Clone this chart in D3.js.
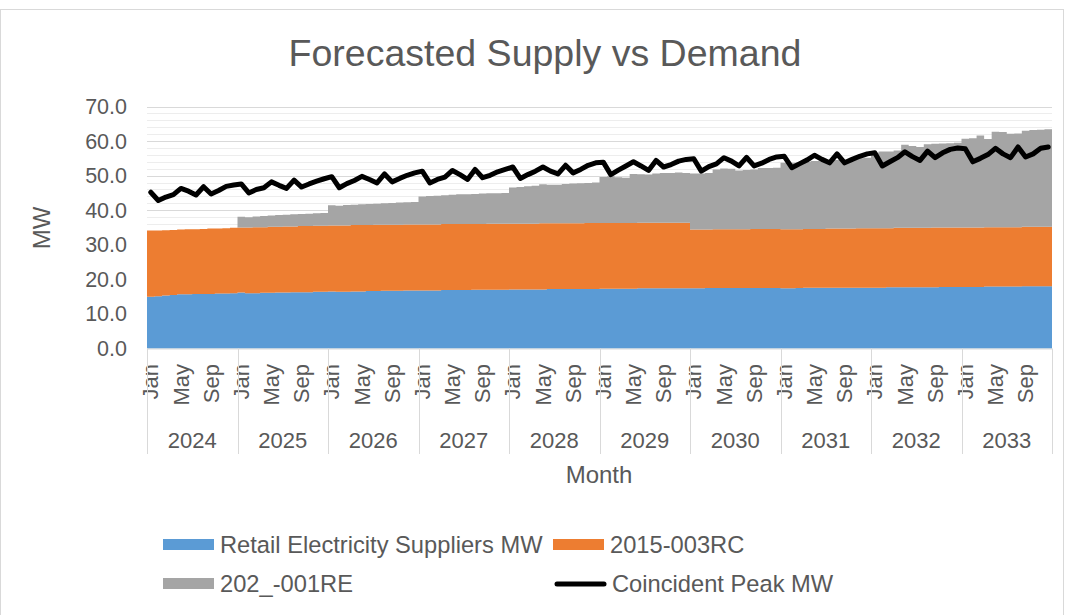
<!DOCTYPE html>
<html><head><meta charset="utf-8">
<script src="https://cdn.jsdelivr.net/npm/d3@7"></script>
<style>
html,body{margin:0;padding:0;background:#fff;}
svg text{font-family:"Liberation Sans",Arial,sans-serif;fill:#595959;}
</style></head>
<body>
<svg id="chart" width="1072" height="615"></svg>
<script>
// ---------- DATA ----------
const years = [2024,2025,2026,2027,2028,2029,2030,2031,2032,2033];
const monthNames = ["Jan","Feb","Mar","Apr","May","Jun","Jul","Aug","Sep","Oct","Nov","Dec"];
const monthTickLabels = ["Jan","May","Sep"];
const yTicks = [0,10,20,30,40,50,60,70];

const retailMW = [
15.0,15.1,15.3,15.5,15.7,15.7,15.8,15.8,15.8,15.9,15.9,16.0,
16.2,16.0,16.0,16.1,16.1,16.2,16.2,16.3,16.3,16.3,16.4,16.4,
16.5,16.4,16.4,16.5,16.5,16.6,16.6,16.7,16.7,16.7,16.8,16.8,
16.8,16.8,16.8,16.9,16.9,16.9,16.9,17.0,17.0,17.0,17.0,17.0,
17.1,17.1,17.1,17.1,17.1,17.2,17.2,17.2,17.2,17.2,17.2,17.2,
17.3,17.3,17.3,17.3,17.3,17.4,17.4,17.4,17.4,17.4,17.4,17.4,
17.4,17.4,17.5,17.5,17.5,17.5,17.5,17.5,17.5,17.5,17.5,17.5,
17.4,17.4,17.5,17.6,17.6,17.6,17.6,17.6,17.6,17.6,17.6,17.6,
17.6,17.6,17.7,17.7,17.7,17.7,17.7,17.7,17.7,17.8,17.8,17.8,
17.8,17.8,17.8,17.9,17.9,17.9,17.9,17.9,18.0,18.0,18.0,18.0];

const rc2015 = [
19.1,19.0,18.9,18.8,18.7,18.8,18.7,18.8,18.9,18.8,18.9,18.9,
18.8,19.0,19.1,19.0,19.1,19.0,19.1,19.0,19.1,19.1,19.1,19.1,
19.1,19.2,19.2,19.2,19.2,19.1,19.2,19.1,19.1,19.1,19.1,19.1,
19.1,19.1,19.1,19.1,19.1,19.1,19.1,19.0,19.0,19.1,19.1,19.1,
19.0,19.0,19.0,19.0,19.1,19.0,19.0,19.0,19.0,19.0,19.1,19.1,
19.0,19.0,19.0,19.0,19.0,19.0,19.0,19.0,19.0,19.0,19.0,19.0,
17.0,17.0,16.9,17.0,17.0,17.0,17.0,17.0,17.1,17.1,17.1,17.1,
17.1,17.1,17.0,17.0,17.0,17.0,17.1,17.1,17.1,17.1,17.2,17.2,
17.2,17.2,17.1,17.2,17.2,17.2,17.2,17.2,17.3,17.2,17.2,17.2,
17.2,17.2,17.2,17.2,17.2,17.2,17.2,17.2,17.2,17.2,17.2,17.2];

const re202 = [
0,0,0,0,0,0,0,0,0,0,0,0,
3.1,3.0,3.1,3.2,3.3,3.4,3.4,3.5,3.5,3.6,3.6,3.7,
5.8,5.7,5.9,5.9,6.0,6.1,6.1,6.2,6.3,6.4,6.4,6.5,
8.1,8.2,8.3,8.3,8.5,8.6,8.6,8.7,8.8,8.8,8.8,8.9,
10.5,10.6,10.8,11.0,11.3,11.2,11.2,11.4,11.5,11.6,11.6,11.7,
13.3,13.5,13.2,13.1,14.2,14.0,13.9,14.2,14.4,14.4,14.5,14.4,
16.2,16.2,16.4,17.3,17.6,17.5,17.0,17.1,17.2,17.6,17.6,17.7,
19.2,19.2,19.3,19.4,19.6,19.7,19.6,19.8,19.9,20.1,20.2,20.4,
21.8,22.2,22.2,22.4,24.0,23.7,23.4,24.2,24.2,24.3,24.4,24.5,
25.7,25.8,26.6,25.5,27.6,27.5,27.0,27.1,27.8,28.0,28.1,28.2];

const peakMW = [
45.2,42.8,43.8,44.5,46.3,45.5,44.4,46.8,44.7,45.7,46.9,47.3,
47.6,45.0,46.0,46.5,48.2,47.2,46.3,48.7,46.7,47.6,48.4,49.1,
49.7,46.5,47.7,48.6,49.8,48.9,47.9,50.5,48.2,49.2,50.1,50.8,
51.3,47.9,48.9,49.6,51.5,50.3,48.9,51.8,49.4,50.1,51.1,51.8,
52.5,49.2,50.3,51.3,52.5,51.3,50.5,53.0,50.8,51.8,53.0,53.7,
53.9,50.3,51.6,52.8,54.0,52.8,51.5,54.4,52.5,53.2,54.2,54.7,
54.9,51.3,52.6,53.4,55.2,54.2,52.8,55.3,52.8,53.6,54.7,55.4,
55.6,52.3,53.4,54.5,55.9,54.7,53.7,56.3,53.7,54.7,55.6,56.3,
56.6,52.8,54.0,55.2,56.9,55.5,54.4,57.1,55.2,56.6,57.6,58.0,
57.8,54.0,55.0,56.1,57.9,56.3,55.2,58.3,55.4,56.3,57.9,58.3];

const seriesNames = ["Retail Electricity Suppliers MW","2015-003RC","202_-001RE","Coincident Peak MW"];
const colors = ["#5b9bd5","#ed7d31","#a5a5a5","#000000"];

// ---------- BUILD ----------
const rows = [];
years.forEach((yr,yi)=>monthNames.forEach((m,mi)=>{
  const i = yi*12+mi;
  rows.push({i, year:yr, month:m, retail:retailMW[i], rc:rc2015[i], re:re202[i], peak:peakMW[i]});
}));

const svg = d3.select("#chart");
const W = 1072, H = 615;
const plot = {left:147, right:1052, top:106.5, bottom:348.5};

svg.append("rect").attr("x",0.5).attr("y",9.5).attr("width",1063).attr("height",H)
  .attr("fill","#fff").attr("stroke","#d9d9d9");

const x = d3.scaleBand().domain(rows.map(d=>d.i)).range([plot.left, plot.right]).padding(0);
const bw = x.bandwidth();
const y = d3.scaleLinear().domain([0,70]).range([plot.bottom, plot.top]);

// gridlines
const minor = d3.range(0,71,2).filter(v=>v%10!==0);
svg.append("g").selectAll("line").data(minor).join("line")
  .attr("x1",plot.left).attr("x2",plot.right)
  .attr("y1",d=>Math.round(y(d))+0.5).attr("y2",d=>Math.round(y(d))+0.5)
  .attr("stroke","#ededed").attr("stroke-width",1);
svg.append("g").selectAll("line").data(yTicks.filter(v=>v>0)).join("line")
  .attr("x1",plot.left).attr("x2",plot.right)
  .attr("y1",d=>Math.round(y(d))+0.5).attr("y2",d=>Math.round(y(d))+0.5)
  .attr("stroke","#d9d9d9").attr("stroke-width",1);

// stacked columns (gap 0) drawn as stepped areas
const stack = d3.stack().keys(["retail","rc","re"]);
const stacked = stack(rows);
const area = d3.area().x(p=>p.x).y0(p=>y(p.d[0])).y1(p=>y(p.d[1]));
stacked.forEach((s,k)=>{
  const pts = [];
  s.forEach((d,i)=>{ pts.push({x:x(i), d}); pts.push({x:x(i)+bw, d}); });
  svg.append("path").datum(pts).attr("d",area).attr("fill",colors[k]);
});

// axis line
svg.append("line").attr("x1",plot.left).attr("x2",plot.right)
  .attr("y1",plot.bottom+0.5).attr("y2",plot.bottom+0.5).attr("stroke","#d9d9d9");

// peak line
const line = d3.line().x(d=>x(d.i)+bw/2).y(d=>y(d.peak));
svg.append("path").datum(rows).attr("d",line).attr("fill","none")
  .attr("stroke","#000").attr("stroke-width",5)
  .attr("stroke-linejoin","round").attr("stroke-linecap","round");

// y axis labels
svg.append("g").selectAll("text").data(yTicks).join("text")
  .attr("x",127).attr("y",d=>y(d)).attr("dy","0.35em")
  .attr("text-anchor","end").style("font-size","21.5px")
  .text(d=>d3.format(".1f")(d));

// month labels
const mt = rows.filter(d=>monthTickLabels.includes(d.month));
svg.append("g").selectAll("text").data(mt).join("text")
  .attr("transform",d=>`translate(${x(d.i)+bw/2},364) rotate(-90)`)
  .attr("dy","0.35em").attr("text-anchor","end").style("font-size","22px")
  .text(d=>d.month);

// year boundaries and labels
const yearEdges = years.map((yr,yi)=>x(yi*12)).concat([plot.right]);
svg.append("g").selectAll("line").data(yearEdges).join("line")
  .attr("x1",d=>Math.round(d)+0.5).attr("x2",d=>Math.round(d)+0.5)
  .attr("y1",plot.bottom).attr("y2",454).attr("stroke","#d9d9d9");
svg.append("g").selectAll("text").data(years).join("text")
  .attr("x",(d,yi)=>(x(yi*12)+x(yi*12+11)+bw)/2).attr("y",448)
  .attr("text-anchor","middle").style("font-size","22px").text(d=>d);

// axis titles
svg.append("text").attr("x",599).attr("y",483).attr("text-anchor","middle")
  .style("font-size","24px").text("Month");
svg.append("text").attr("transform","translate(50,228) rotate(-90)")
  .attr("text-anchor","middle").style("font-size","24px").text("MW");

// title
svg.append("text").attr("x",545).attr("y",66).attr("text-anchor","middle")
  .style("font-size","37.5px").text("Forecasted Supply vs Demand");

// legend
const legendItems = [
  {name:seriesNames[0], color:colors[0], type:"rect", sx:163, ty:545},
  {name:seriesNames[1], color:colors[1], type:"rect", sx:553, ty:545},
  {name:seriesNames[2], color:colors[2], type:"rect", sx:163, ty:584},
  {name:seriesNames[3], color:colors[3], type:"line", sx:555, ty:584}
];
const lg = svg.append("g");
legendItems.forEach(it=>{
  if(it.type==="rect"){
    lg.append("rect").attr("x",it.sx).attr("y",it.ty-6).attr("width",51).attr("height",11).attr("fill",it.color);
  } else {
    lg.append("line").attr("x1",it.sx+2).attr("x2",it.sx+49).attr("y1",it.ty).attr("y2",it.ty)
      .attr("stroke",it.color).attr("stroke-width",5).attr("stroke-linecap","round");
  }
  lg.append("text").attr("x",it.sx+57).attr("y",it.ty).attr("dy","0.35em")
    .style("font-size","23.7px").text(it.name);
});
</script>
</body></html>
